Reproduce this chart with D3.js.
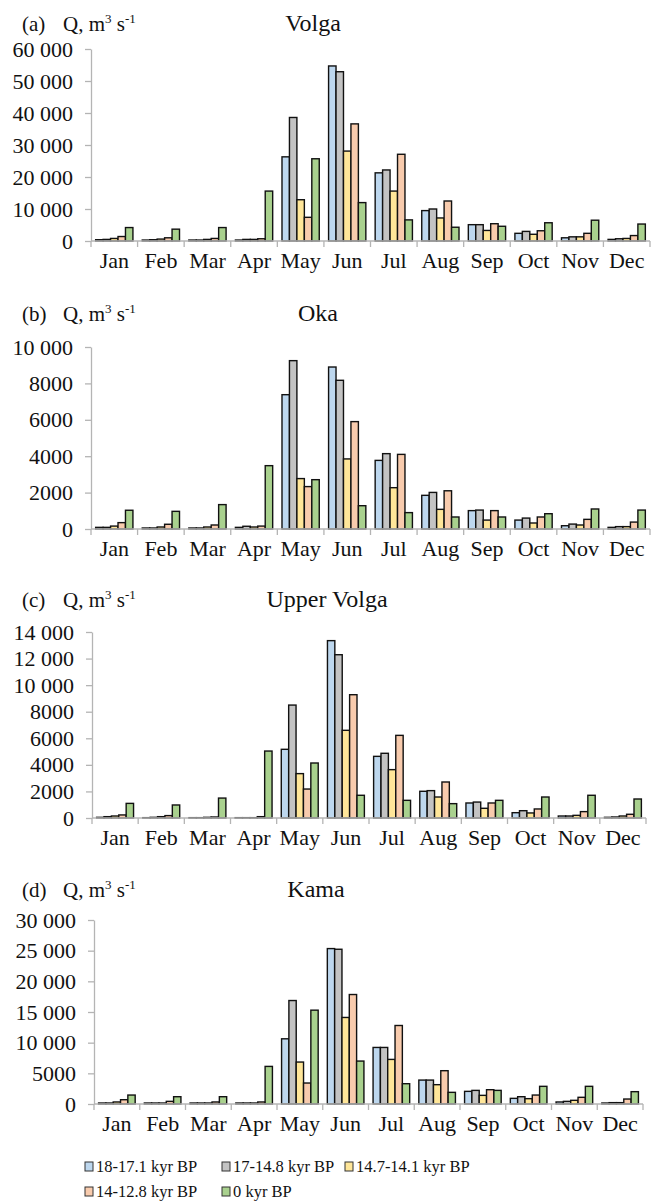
<!DOCTYPE html>
<html>
<head>
<meta charset="utf-8">
<script src="https://cdn.jsdelivr.net/npm/d3@7"></script>
<style>
  html, body { margin: 0; padding: 0; background: #fff; }
</style>
</head>
<body>
<svg id="chart" width="656" height="1201"></svg>
<script>
// Monthly discharge (m³/s) for five periods, four river basins
const months = ["Jan", "Feb", "Mar", "Apr", "May", "Jun", "Jul", "Aug", "Sep", "Oct", "Nov", "Dec"];
const periods = ["18-17.1 kyr BP", "17-14.8 kyr BP", "14.7-14.1 kyr BP", "14-12.8 kyr BP", "0 kyr BP"];
const periodColors = ["#bdd7ee", "#c3c3c3", "#ffe699", "#f8cbad", "#a9d18e"];

// rows follow `periods`, columns follow `months`
const volgaQ = [
  [400, 300, 300, 300, 26300, 54700, 21300, 9500, 5100, 2400, 1000, 500],
  [500, 400, 300, 500, 38600, 52900, 22200, 10000, 5100, 3000, 1300, 700],
  [800, 600, 500, 500, 12900, 28100, 15600, 7200, 3300, 2100, 1300, 800],
  [1400, 1000, 800, 700, 7400, 36600, 27100, 12500, 5400, 3200, 2400, 1700],
  [4200, 3700, 4200, 15600, 25700, 12000, 6600, 4300, 4600, 5700, 6500, 5300]
];
const okaQ = [
  [90, 55, 55, 90, 7380, 8900, 3770, 1850, 1010, 490, 180, 90],
  [90, 55, 55, 150, 9250, 8170, 4140, 2010, 1040, 600, 270, 130],
  [160, 110, 110, 110, 2770, 3850, 2270, 1080, 490, 330, 220, 130],
  [350, 260, 220, 160, 2330, 5900, 4100, 2100, 1010, 660, 530, 380],
  [1030, 970, 1340, 3480, 2710, 1280, 900, 660, 660, 840, 1100, 1040]
];
const upperVolgaQ = [
  [50, 25, 25, 25, 5170, 13350, 4640, 2010, 1130, 400, 150, 50],
  [100, 50, 25, 25, 8500, 12290, 4870, 2060, 1200, 550, 150, 75],
  [150, 100, 50, 25, 3340, 6600, 3640, 1580, 730, 380, 200, 150],
  [230, 180, 75, 100, 2180, 9280, 6220, 2710, 1130, 680, 480, 280],
  [1100, 980, 1500, 5040, 4140, 1710, 1330, 1080, 1330, 1580, 1710, 1430]
];
const kamaQ = [
  [160, 160, 160, 160, 10630, 25340, 9220, 3900, 2060, 920, 330, 160],
  [160, 160, 160, 160, 16870, 25230, 9220, 3900, 2220, 1190, 430, 220],
  [330, 160, 160, 160, 6840, 14110, 7270, 3150, 1410, 870, 600, 220],
  [700, 430, 330, 330, 3420, 17850, 12800, 5430, 2330, 1460, 1090, 810],
  [1460, 1190, 1190, 6130, 15300, 7000, 3310, 1900, 2220, 2880, 2880, 2010]
];

const volgaTicks = [0, 10000, 20000, 30000, 40000, 50000, 60000];
const okaTicks = [0, 2000, 4000, 6000, 8000, 10000];
const upperVolgaTicks = [0, 2000, 4000, 6000, 8000, 10000, 12000, 14000];
const kamaTicks = [0, 5000, 10000, 15000, 20000, 25000, 30000];

// panel layout: plot box and heading positions
const panels = [
  { tag: "(a)", title: "Volga", values: volgaQ, ticks: volgaTicks,
    left: 91, right: 650, top: 49, bottom: 241, headY: 31, titleX: 313 },
  { tag: "(b)", title: "Oka", values: okaQ, ticks: okaTicks,
    left: 91, right: 650, top: 347, bottom: 529, headY: 321, titleX: 318 },
  { tag: "(c)", title: "Upper Volga", values: upperVolgaQ, ticks: upperVolgaTicks,
    left: 92, right: 646, top: 632, bottom: 818, headY: 607, titleX: 327 },
  { tag: "(d)", title: "Kama", values: kamaQ, ticks: kamaTicks,
    left: 94, right: 643, top: 920, bottom: 1104, headY: 897, titleX: 316 }
];

const FONT = "'Liberation Serif', Tinos, 'Times New Roman', 'DejaVu Serif', serif";
const svg = d3.select("#chart").attr("font-family", FONT);
const axisGrey = "#b4b4b4";
const ink = "#111";

const fmt = v => v >= 10000 ? d3.format(",")(v).replace(/,/g, " ") : String(v);

panels.forEach(p => {
  const g = svg.append("g");

  const x0 = d3.scaleBand().domain(months).range([p.left, p.right])
    .paddingInner(0.2).paddingOuter(0.1);
  const x1 = d3.scaleBand().domain(d3.range(periods.length)).range([0, x0.bandwidth()]);
  const y = d3.scaleLinear().domain([0, d3.max(p.ticks)]).range([p.bottom, p.top]);

  // headings
  g.append("text").attr("x", 22).attr("y", p.headY).attr("font-family", FONT)
    .attr("font-size", 21).attr("fill", ink).text(p.tag);
  const q = g.append("text").attr("x", 63).attr("y", p.headY).attr("font-family", FONT)
    .attr("font-size", 21).attr("fill", ink);
  q.append("tspan").text("Q, m");
  q.append("tspan").attr("font-size", 13).attr("dy", -8).text("3");
  q.append("tspan").attr("dy", 8).text(" s");
  q.append("tspan").attr("font-size", 13).attr("dy", -8).text("-1");
  g.append("text").attr("x", p.titleX).attr("y", p.headY).attr("font-family", FONT)
    .attr("text-anchor", "middle").attr("font-size", 24).attr("fill", ink).text(p.title);

  // y axis
  const yAxis = g.append("g").attr("transform", `translate(${p.left},0)`)
    .call(d3.axisLeft(y).tickValues(p.ticks).tickFormat(fmt).tickSizeInner(6).tickSizeOuter(0).tickPadding(12));
  yAxis.attr("font-family", FONT);
  yAxis.select(".domain").attr("stroke", axisGrey).attr("stroke-width", 1.3);
  yAxis.selectAll(".tick line").attr("stroke", axisGrey).attr("stroke-width", 1.3);
  yAxis.selectAll(".tick text").attr("font-size", 22).attr("fill", ink);

  // bars
  const groups = g.append("g").selectAll("g").data(months).join("g")
    .attr("transform", m => `translate(${x0(m)},0)`);
  groups.selectAll("rect")
    .data((m, mi) => periods.map((_, si) => ({ si, v: p.values[si][mi] })))
    .join("rect")
    .attr("x", d => x1(d.si))
    .attr("width", x1.bandwidth())
    .attr("y", d => y(d.v))
    .attr("height", d => y(0) - y(d.v))
    .attr("fill", d => periodColors[d.si])
    .attr("stroke", ink)
    .attr("stroke-width", 1.4);

  // x axis: baseline with ticks at month boundaries
  const bounds = d3.range(months.length + 1).map(i => p.left + i * (p.right - p.left) / months.length);
  const xa = g.append("g");
  xa.append("line").attr("x1", p.left).attr("x2", p.right)
    .attr("y1", y(0)).attr("y2", y(0)).attr("stroke", axisGrey).attr("stroke-width", 1.3);
  xa.selectAll("line.tk").data(bounds).join("line").attr("class", "tk")
    .attr("x1", d => d).attr("x2", d => d)
    .attr("y1", y(0)).attr("y2", y(0) + 6)
    .attr("stroke", axisGrey).attr("stroke-width", 1.3);
  xa.selectAll("text").data(months).join("text")
    .attr("x", m => x0(m) + x0.bandwidth() / 2)
    .attr("y", y(0) + 27).attr("font-family", FONT)
    .attr("text-anchor", "middle").attr("font-size", 22).attr("fill", ink)
    .text(m => m);
});

// legend
const legendPos = [[85, 1172], [222, 1172], [345, 1172], [85, 1197], [222, 1197]];
const legend = svg.append("g").selectAll("g").data(periods).join("g")
  .attr("transform", (d, i) => `translate(${legendPos[i][0]},${legendPos[i][1]})`);
legend.append("rect").attr("x", 0).attr("y", -10).attr("width", 8).attr("height", 9)
  .attr("fill", (d, i) => periodColors[i]).attr("stroke", "#333").attr("stroke-width", 1);
legend.append("text").attr("x", 11).attr("y", 0).attr("font-family", FONT)
  .attr("font-size", 16.5).attr("fill", ink).text(d => d);
</script>
</body>
</html>
